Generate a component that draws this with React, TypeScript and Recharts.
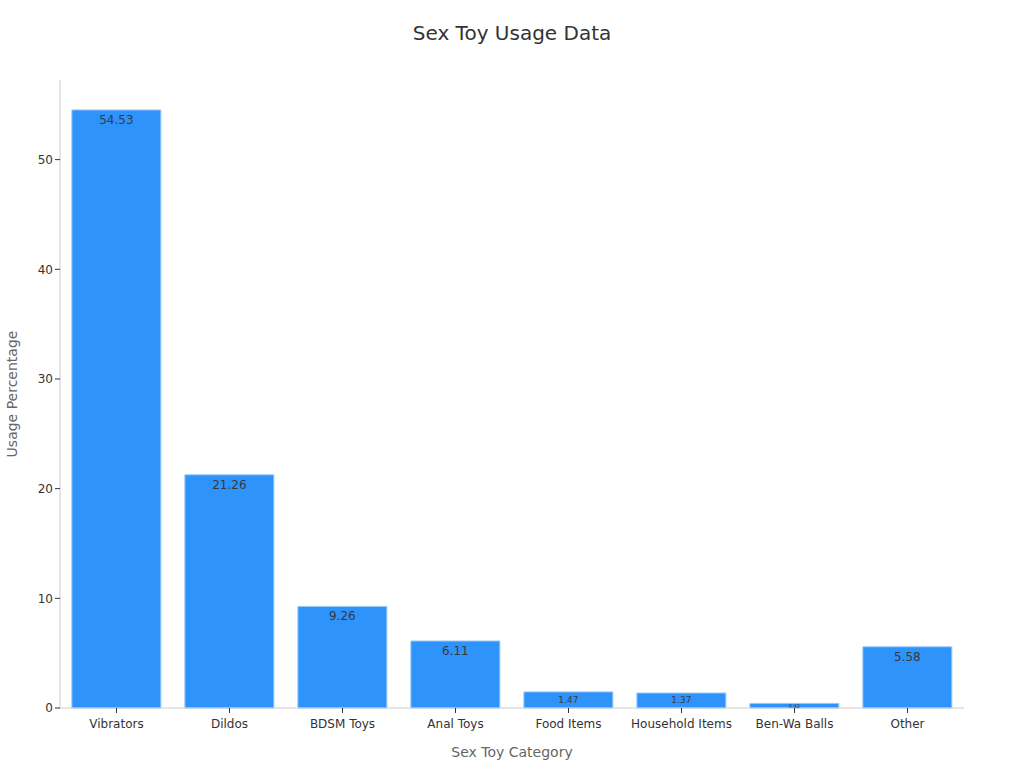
import React from 'react';
import { BarChart, Bar, XAxis, YAxis, LabelList, Label } from 'recharts';

const categories = ['Vibrators', 'Dildos', 'BDSM Toys', 'Anal Toys', 'Food Items', 'Household Items', 'Ben-Wa Balls', 'Other'];
const usage = [54.53, 21.26, 9.26, 6.11, 1.47, 1.37, 0.42, 5.58];
const yTicks = [0, 10, 20, 30, 40, 50];

const data = categories.map((c, i) => ({ category: c, value: usage[i] }));

const font = '"DejaVu Sans", sans-serif';

const BarLabel = (props: any) => {
  const { x, y, width, height, value } = props;
  let fs = 12;
  if (height < 8) fs = 5;
  else if (height < 20) fs = 9;
  const cy = height < 20 ? y + height / 2 : y + 10;
  return (
    <text x={x + width / 2} y={cy} textAnchor="middle" dominantBaseline="central" fontSize={fs} fill="#3a3a3a" fontFamily={font}>
      {value}
    </text>
  );
};

const YLabel = () => (
  <text x={12} y={394} transform="rotate(-90, 12, 394)" textAnchor="middle" dominantBaseline="central" fontSize={14} fill="#666" fontFamily={font}>
    Usage Percentage
  </text>
);

export default function App() {
  return (
    <div style={{ position: 'absolute', left: 0, top: 0, width: 1024, height: 768, background: '#fff', fontFamily: font }}>
      <div style={{ position: 'absolute', top: 21, left: 0, width: 1024, textAlign: 'center', fontSize: 20, color: '#333' }}>
        Sex Toy Usage Data
      </div>
      <BarChart width={1024} height={768} data={data} margin={{ top: 80, right: 60, bottom: 0, left: 0 }} barCategoryGap="10.5%">
        <XAxis
          dataKey="category"
          height={60}
          tick={{ fontSize: 12, fill: '#333', fontFamily: font, dy: 4 }}
          tickLine={{ stroke: '#333' }}
          axisLine={{ stroke: '#ccc' }}
          tickSize={5}
        >
          <Label value="Sex Toy Category" position="insideBottom" offset={11} fill="#666" style={{ fontSize: 14, fill: '#666', fontFamily: font }} />
        </XAxis>
        <YAxis
          width={60}
          domain={[0, 57.26]}
          ticks={yTicks}
          tick={{ fontSize: 12, fill: '#333', fontFamily: font }}
          tickLine={{ stroke: '#333' }}
          axisLine={{ stroke: '#ccc' }}
          tickSize={5}
        >
          <Label content={YLabel} />
        </YAxis>
        <Bar dataKey="value" fill="#2E93FA" stroke="#9cc9f7" strokeWidth={1} isAnimationActive={false}>
          <LabelList dataKey="value" content={BarLabel} />
        </Bar>
      </BarChart>
    </div>
  );
}
